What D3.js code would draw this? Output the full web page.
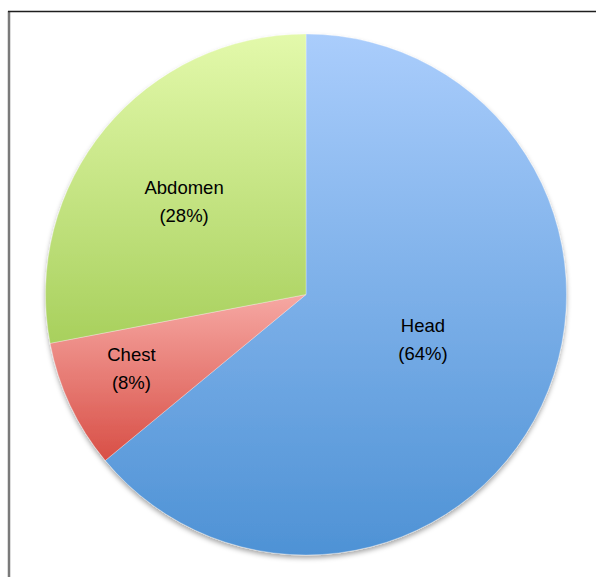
<!DOCTYPE html>
<html>
<head>
<meta charset="utf-8">
<script src="https://cdn.jsdelivr.net/npm/d3@7"></script>
<style>
  body { margin: 0; background: #fff; }
  text { font-family: "Liberation Sans", Arial, sans-serif; }
</style>
</head>
<body>
<div id="chart"></div>
<script>
// slice data, clockwise from 12 o'clock
var categories = ["Head", "Chest", "Abdomen"];
var values = [64, 8, 28];
var labels = ["(64%)", "(8%)", "(28%)"];

// look
var topColors = ["#aacdfc", "#f6a8a3", "#e3f9ab"];
var bottomColors = ["#4e92d5", "#d84f46", "#a8d05d"];
var labelRadius = [0.48, 0.727, 0.59]; // fraction of radius where each label sits
var labelTurn = [-4.4, 2.4, -2.1];     // degrees off the slice middle

var width = 596, height = 577;
var cx = 306, cy = 294.5, radius = 260.5;

var svg = d3.select("#chart").append("svg")
  .attr("width", width).attr("height", height);

var defs = svg.append("defs");

var shadow = defs.append("filter").attr("id", "shadow")
  .attr("x", "-10%").attr("y", "-10%").attr("width", "120%").attr("height", "125%");
shadow.append("feDropShadow")
  .attr("dx", 0).attr("dy", 3).attr("stdDeviation", 2.5)
  .attr("flood-color", "#000").attr("flood-opacity", 0.35);

categories.forEach(function(c, i) {
  var g = defs.append("linearGradient").attr("id", "grad" + i)
    .attr("x1", 0).attr("y1", 0).attr("x2", 0).attr("y2", 1);
  g.append("stop").attr("offset", "0%").attr("stop-color", topColors[i]);
  g.append("stop").attr("offset", "100%").attr("stop-color", bottomColors[i]);
});

// frame
svg.append("line").attr("x1", 9).attr("x2", 9).attr("y1", 11).attr("y2", height)
  .attr("stroke", "#7a7a7a").attr("stroke-width", 2.5);
svg.append("line").attr("x1", 8).attr("x2", width).attr("y1", 11.5).attr("y2", 11.5)
  .attr("stroke", "#1e1e1e").attr("stroke-width", 1.6);

var pie = d3.pie().sort(null).value(function(d) { return d; });
var arcs = pie(values);
var arc = d3.arc().innerRadius(0).outerRadius(radius);

var g = svg.append("g").attr("transform", "translate(" + cx + "," + cy + ")");

var slices = g.append("g").attr("filter", "url(#shadow)");
slices.selectAll("path").data(arcs).enter().append("path")
  .attr("d", arc)
  .attr("fill", function(d, i) { return "url(#grad" + i + ")"; })
  .attr("stroke", "#ffffff").attr("stroke-opacity", 0.5).attr("stroke-width", 0.6);

var lab = g.selectAll("text.lab").data(arcs).enter().append("text")
  .attr("class", "lab")
  .attr("text-anchor", "middle")
  .attr("font-size", 18.5)
  .attr("fill", "#000")
  .attr("transform", function(d, i) {
    var r = radius * labelRadius[i];
    var a = (d.startAngle + d.endAngle) / 2 + labelTurn[i] * Math.PI / 180;
    return "translate(" + (r * Math.sin(a)) + "," + (-r * Math.cos(a)) + ")";
  });
lab.append("tspan").attr("x", 0).attr("y", -7)
  .text(function(d, i) { return categories[i]; });
lab.append("tspan").attr("x", 0).attr("y", 21)
  .text(function(d, i) { return labels[i]; });
</script>
</body>
</html>
